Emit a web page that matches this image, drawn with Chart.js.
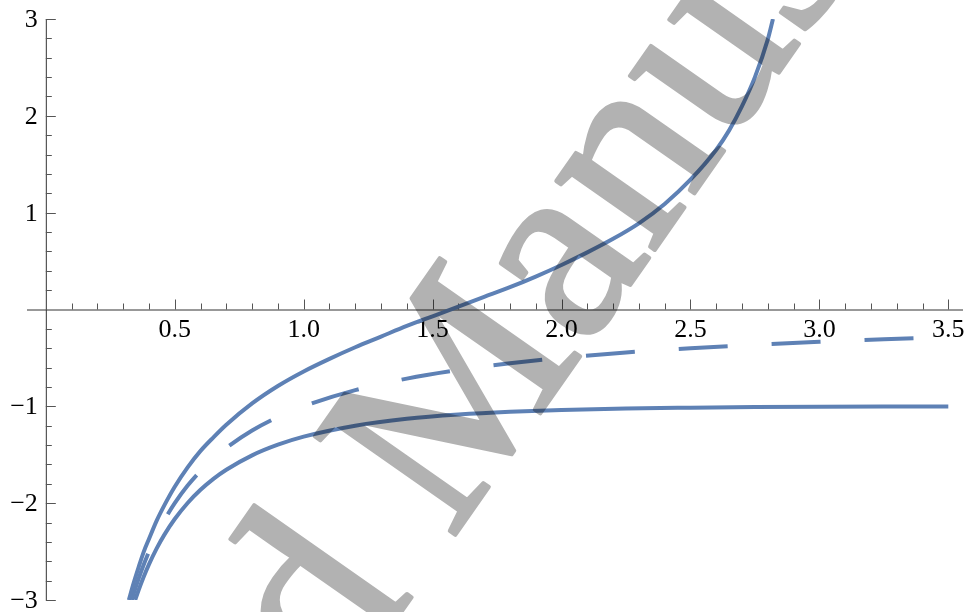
<!DOCTYPE html>
<html>
<head>
<meta charset="utf-8">
<script src="https://cdn.jsdelivr.net/npm/chart.js@4.4.1/dist/chart.umd.min.js"></script>
<style>
  html, body { margin: 0; padding: 0; background: #ffffff; }
  #wrap { width: 969px; height: 612px; position: relative; }
</style>
</head>
<body>
<div id="wrap"><canvas id="plot"></canvas></div>
<script>
// values
const upperX = [0.322, 0.34, 0.36, 0.38, 0.40, 0.43, 0.46, 0.50, 0.55, 0.60, 0.65, 0.70, 0.80, 0.90, 1.00, 1.10, 1.20, 1.30, 1.40, 1.50, 1.60, 1.70, 1.80, 1.90, 2.00, 2.10, 2.20, 2.30, 2.40, 2.50, 2.60, 2.65, 2.70, 2.75, 2.80, 2.82];
const upperY = [-3.00, -2.83, -2.66, -2.50, -2.37, -2.18, -2.02, -1.83, -1.63, -1.46, -1.32, -1.19, -0.97, -0.79, -0.64, -0.51, -0.39, -0.28, -0.17, -0.07, 0.03, 0.13, 0.23, 0.34, 0.46, 0.59, 0.73, 0.89, 1.09, 1.34, 1.65, 1.85, 2.10, 2.40, 2.79, 3.00];

const dashX = [0.3333, 0.35, 0.37, 0.40, 0.43, 0.46, 0.50, 0.55, 0.60, 0.65, 0.70, 0.80, 0.90, 1.00, 1.20, 1.40, 1.60, 1.80, 2.00, 2.25, 2.50, 2.75, 3.00, 3.25, 3.50];
const dashY = [-3.00, -2.857, -2.703, -2.50, -2.326, -2.174, -2.00, -1.818, -1.667, -1.538, -1.429, -1.25, -1.111, -1.00, -0.833, -0.714, -0.625, -0.556, -0.50, -0.444, -0.40, -0.364, -0.333, -0.308, -0.286];

const lowerX = [0.3466, 0.36, 0.38, 0.40, 0.43, 0.46, 0.50, 0.55, 0.60, 0.65, 0.70, 0.80, 0.90, 1.00, 1.20, 1.40, 1.60, 1.80, 2.00, 2.25, 2.50, 2.75, 3.00, 3.25, 3.50];
const lowerY = [-3.00, -2.897, -2.757, -2.632, -2.467, -2.325, -2.164, -1.998, -1.862, -1.749, -1.655, -1.506, -1.396, -1.313, -1.200, -1.129, -1.085, -1.056, -1.037, -1.022, -1.014, -1.008, -1.005, -1.003, -1.002];

const xMajor = [0.5, 1.0, 1.5, 2.0, 2.5, 3.0, 3.5];
const xLabels = ['0.5', '1.0', '1.5', '2.0', '2.5', '3.0', '3.5'];
const yMajor = [-3, -2, -1, 1, 2, 3];
const yLabels = ['\u22123', '\u22122', '\u22121', '1', '2', '3'];

const lineColor = '#5E81B5';

function toPoints(xs, ys) {
    return xs.map(function(x, i) { return { x: x, y: ys[i] }; });
}

// axes through the origin, Mathematica style
const originAxes = {
    id: 'originAxes',
    beforeDatasetsDraw(chart) {
        const ctx = chart.ctx;
        const xs = chart.scales.x;
        const ys = chart.scales.y;
        const area = chart.chartArea;
        const x0 = xs.getPixelForValue(0);
        const y0 = ys.getPixelForValue(0);
        ctx.save();
        ctx.lineWidth = 1;
        ctx.strokeStyle = '#333333';
        ctx.beginPath();
        ctx.moveTo(area.left, y0 + 0.5);
        ctx.lineTo(area.right, y0 + 0.5);
        ctx.moveTo(x0 + 0.5, area.top);
        ctx.lineTo(x0 + 0.5, area.bottom);
        ctx.stroke();

        ctx.strokeStyle = '#555555';
        ctx.beginPath();
        // x ticks, every 0.1
        for (let i = 1; i <= 35; i++) {
            const px = Math.round(xs.getPixelForValue(i / 10)) + 0.5;
            const len = (i % 5 === 0) ? 10 : 6;
            ctx.moveTo(px, y0);
            ctx.lineTo(px, y0 - len);
        }
        // y ticks, every 0.2
        for (let j = -15; j <= 15; j++) {
            if (j === 0) continue;
            const py = Math.round(ys.getPixelForValue(j / 5)) + 0.5;
            const len = (j % 5 === 0) ? 10 : 6;
            ctx.moveTo(x0, py);
            ctx.lineTo(x0 + len, py);
        }
        ctx.stroke();

        ctx.fillStyle = '#000000';
        ctx.font = '26px "Liberation Serif", "Times New Roman", serif';
        ctx.textAlign = 'center';
        ctx.textBaseline = 'alphabetic';
        xMajor.forEach(function(v, i) {
            ctx.fillText(xLabels[i], xs.getPixelForValue(v), y0 + 27);
        });
        ctx.textAlign = 'right';
        yMajor.forEach(function(v, i) {
            ctx.fillText(yLabels[i], x0 - 8, ys.getPixelForValue(v) + 8);
        });
        ctx.restore();
    }
};

// grey diagonal stamp laid over the figure
// (drawn solid on a side canvas first so the thickening stroke doesn't double up)
const stamp = {
    id: 'stamp',
    afterDraw(chart) {
        const ctx = chart.ctx;
        const off = document.createElement('canvas');
        off.width = chart.width;
        off.height = chart.height;
        const oc = off.getContext('2d');
        oc.translate(451, 541);
        oc.rotate(-55 * Math.PI / 180);
        oc.font = '262px "Liberation Serif", "Times New Roman", serif';
        oc.fillStyle = '#000000';
        oc.strokeStyle = '#000000';
        oc.lineWidth = 4;
        oc.lineJoin = 'round';
        oc.textBaseline = 'alphabetic';
        oc.textAlign = 'right';
        oc.fillText('Accepted ', 0, 0);
        oc.strokeText('Accepted ', 0, 0);
        oc.textAlign = 'left';
        oc.fillText('Manuscript', 0, 0);
        oc.strokeText('Manuscript', 0, 0);

        ctx.save();
        ctx.globalAlpha = 0.3;
        ctx.drawImage(off, 0, 0);
        ctx.restore();
    }
};

const common = {
    borderColor: lineColor,
    borderWidth: 4,
    pointRadius: 0,
    fill: false,
    cubicInterpolationMode: 'monotone'
};

new Chart(document.getElementById('plot'), {
    type: 'line',
    data: {
        datasets: [
            Object.assign({ data: toPoints(upperX, upperY) }, common),
            Object.assign({ data: toPoints(dashX, dashY), borderDash: [49, 44], borderCapStyle: 'butt' }, common),
            Object.assign({ data: toPoints(lowerX, lowerY) }, common)
        ]
    },
    options: {
        responsive: true,
        maintainAspectRatio: false,
        animation: false,
        events: [],
        layout: { padding: { left: 27, right: 6, top: 19, bottom: 12 } },
        plugins: {
            legend: { display: false },
            tooltip: { enabled: false }
        },
        scales: {
            x: { type: 'linear', min: -0.073, max: 3.557, display: false },
            y: { type: 'linear', min: -3, max: 3, display: false }
        }
    },
    plugins: [originAxes, stamp]
});
</script>
</body>
</html>
